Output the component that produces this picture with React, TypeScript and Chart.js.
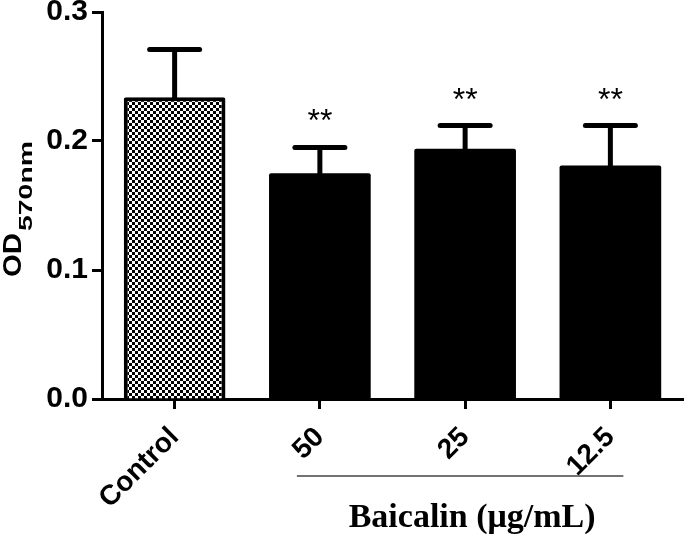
import React, { useEffect, useRef } from "react";
import { Chart, registerables } from "chart.js";

Chart.register(...registerables);

const categories = ["Control", "50", "25", "12.5"];
const means = [0.234, 0.175, 0.194, 0.181];
const upperErrors = [0.037, 0.020, 0.018, 0.031];
const significance = ["", "**", "**", "**"];
const yTicks = [0, 0.1, 0.2, 0.3];
const groupLabel = "Baicalin (μg/mL)";
const yTitleMain = "OD";
const yTitleSub = "570nm";

function makeChecker(): CanvasPattern | string {
  const c = document.createElement("canvas");
  c.width = 6;
  c.height = 6;
  const g = c.getContext("2d");
  if (!g) return "#888";
  g.fillStyle = "#ffffff";
  g.fillRect(0, 0, 6, 6);
  g.fillStyle = "#000000";
  g.fillRect(0, 0, 3, 3);
  g.fillRect(3, 3, 3, 3);
  const p = g.createPattern(c, "repeat");
  return p || "#888";
}

export default function App() {
  const ref = useRef<HTMLCanvasElement | null>(null);

  useEffect(() => {
    const canvas = ref.current;
    if (!canvas) return;
    const checker = makeChecker();

    const errorBars = {
      id: "errorBars",
      afterDatasetsDraw(chart: any) {
        const ctx = chart.ctx;
        const meta = chart.getDatasetMeta(0);
        const ys = chart.scales.y;
        ctx.save();
        meta.data.forEach((el: any, i: number) => {
          const x = el.x;
          const yTop = ys.getPixelForValue(means[i]);
          const yErr = ys.getPixelForValue(means[i] + upperErrors[i]);
          ctx.strokeStyle = "#000";
          ctx.lineWidth = 5;
          ctx.lineCap = "butt";
          ctx.beginPath();
          ctx.moveTo(x, yTop + 2);
          ctx.lineTo(x, yErr);
          ctx.stroke();
          ctx.lineCap = "round";
          ctx.beginPath();
          ctx.moveTo(x - 25, yErr);
          ctx.lineTo(x + 25, yErr);
          ctx.stroke();
          if (significance[i]) {
            ctx.fillStyle = "#000";
            ctx.font = "32px 'Liberation Sans', Arial, sans-serif";
            ctx.textAlign = "center";
            ctx.textBaseline = "alphabetic";
            ctx.fillText(significance[i], x, yErr - 16);
          }
        });
        ctx.restore();
      },
    };

    const extras = {
      id: "extras",
      afterDraw(chart: any) {
        const ctx = chart.ctx;
        const xs = chart.scales.x;
        const area = chart.chartArea;
        ctx.save();
        // group bracket
        const x1 = xs.getPixelForValue(1) - 23;
        const x2 = xs.getPixelForValue(3) + 13;
        const yLine = area.bottom + 77;
        ctx.strokeStyle = "#444";
        ctx.lineWidth = 1.5;
        ctx.beginPath();
        ctx.moveTo(x1, yLine);
        ctx.lineTo(x2, yLine);
        ctx.stroke();
        ctx.fillStyle = "#000";
        ctx.font = "bold 34px 'Liberation Serif', 'Times New Roman', serif";
        ctx.textAlign = "center";
        ctx.textBaseline = "alphabetic";
        ctx.fillText(groupLabel, (x1 + x2) / 2 + 12, area.bottom + 128);

        // y title with subscript
        ctx.translate(21, 277);
        ctx.rotate(-Math.PI / 2);
        ctx.textAlign = "left";
        ctx.font = "bold 25px 'Liberation Sans', Arial, sans-serif";
        const wMain = ctx.measureText(yTitleMain).width;
        ctx.save();
        ctx.scale(44 / wMain, 1);
        ctx.fillText(yTitleMain, 0, 0);
        ctx.restore();
        ctx.font = "bold 19px 'Liberation Sans', Arial, sans-serif";
        const wSub = ctx.measureText(yTitleSub).width;
        ctx.save();
        ctx.translate(46, 11);
        ctx.scale(90 / wSub, 1);
        ctx.fillText(yTitleSub, 0, 0);
        ctx.restore();
        ctx.restore();
      },
    };

    const chart = new Chart(canvas, {
      type: "bar",
      data: {
        labels: categories,
        datasets: [
          {
            data: means,
            backgroundColor: [checker, "#000", "#000", "#000"] as any,
            borderColor: "#000",
            borderWidth: [4, 0, 0, 0] as any,
            borderSkipped: "bottom",
            borderRadius: 2,
            categoryPercentage: 1,
            barPercentage: 0.7,
          },
        ],
      },
      options: {
        responsive: false,
        animation: false,
        events: [],
        layout: { padding: { top: 12, right: 2, left: 0, bottom: 0 } },
        plugins: {
          legend: { display: false },
          tooltip: { enabled: false },
          title: { display: false },
        },
        scales: {
          x: {
            offset: true,
            grid: {
              display: true,
              offset: false,
              drawOnChartArea: false,
              drawTicks: true,
              tickLength: 10,
              tickWidth: 3,
              tickColor: "#000",
            },
            border: { display: true, color: "#000", width: 3 },
            ticks: {
              color: "#000",
              font: { family: "'Liberation Sans', Arial, sans-serif", size: 28, weight: "bold" },
              minRotation: 45,
              maxRotation: 45,
              autoSkip: false,
              padding: 12,
            },
            afterFit(scale: any) {
              scale.height = 135;
              scale.paddingLeft = 0;
              scale.paddingRight = 0;
            },
          },
          y: {
            min: 0,
            max: 0.3,
            afterBuildTicks(scale: any) {
              scale.ticks = yTicks.map((v) => ({ value: v }));
            },
            grid: {
              display: true,
              drawOnChartArea: false,
              drawTicks: true,
              tickLength: 10,
              tickWidth: 3,
              tickColor: "#000",
            },
            border: { display: true, color: "#000", width: 3 },
            ticks: {
              color: "#000",
              font: { family: "'Liberation Sans', Arial, sans-serif", size: 30, weight: "bold" },
              padding: 4,
              callback: (v: any) => Number(v).toFixed(1),
            },
            afterFit(scale: any) {
              scale.width = 102;
              scale.paddingTop = 0;
              scale.paddingBottom = 0;
            },
          },
        },
      },
      plugins: [errorBars, extras],
    });

    return () => chart.destroy();
  }, []);

  return (
    <div style={{ position: "absolute", left: 0, top: 0, width: 685, height: 534, background: "#fff" }}>
      <canvas ref={ref} width={685} height={534} style={{ display: "block" }} />
    </div>
  );
}
